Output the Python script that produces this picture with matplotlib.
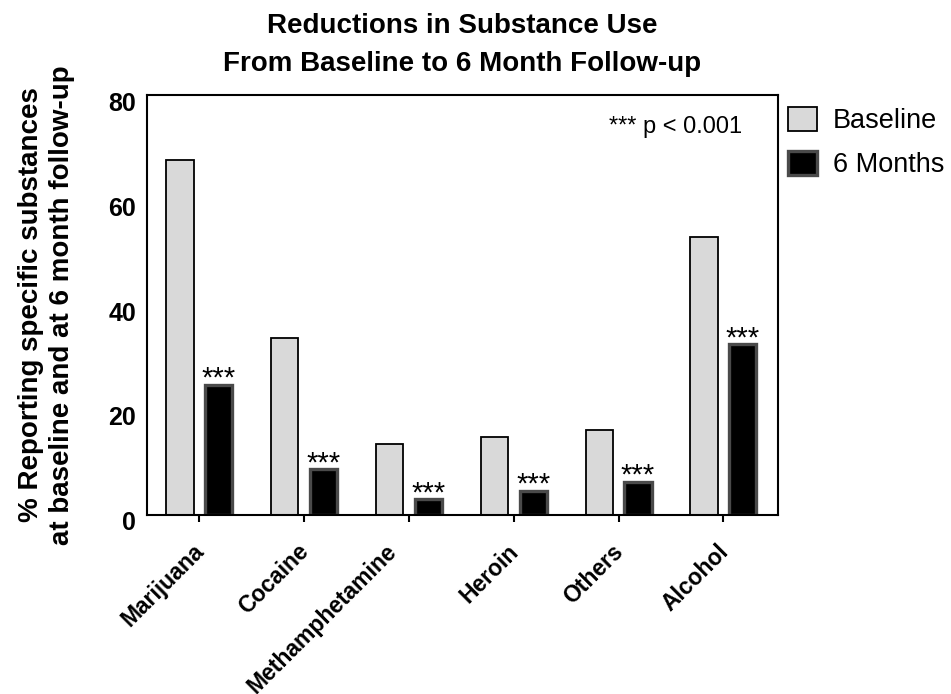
import numpy as np
import matplotlib.pyplot as plt
import matplotlib.transforms as mtrans

# data
substances = ["Marijuana", "Cocaine", "Methamphetamine", "Heroin", "Others", "Alcohol"]
baseline = [67.7, 33.7, 13.6, 14.9, 16.2, 53.0]
month6 = [24.8, 8.7, 3.0, 4.6, 6.3, 32.5]
stars = ["***", "***", "***", "***", "***", "***"]

plt.rcParams['font.family'] = ['Liberation Sans', 'DejaVu Sans']

fig = plt.figure(figsize=(9.51, 6.94), dpi=100)
ax = fig.add_axes([0.1546, 0.258, 0.6634, 0.605])

x = np.arange(len(substances))
w = 0.26
off = 0.185

ax.bar(x - off, baseline, w, color="#d9d9d9", edgecolor="black", linewidth=1.3, label="Baseline")
ax.bar(x + off, month6, w, color="black", edgecolor="#4a4a4a", linewidth=2.4, label="6 Months")

# significance stars over the 6 month bars
for xi, v, s in zip(x, month6, stars):
    ax.annotate(s, (xi + off, v), xytext=(0, -1.5), textcoords="offset points",
                ha="center", va="baseline", fontsize=21)

ax.text(0.944, 0.925, "*** p < 0.001", transform=ax.transAxes,
        ha="right", va="center", fontsize=17)

ax.set_xlim(-0.5, 5.52)
ax.set_ylim(0, 80)
ax.set_yticks([0, 20, 40, 60, 80])
ax.set_xticks(x)
# tick_params first, it resets the label transforms
ax.tick_params(axis="x", direction="out", length=5, width=1.5, pad=13)
ax.tick_params(axis="y", length=0, pad=8)
ax.set_xticklabels(substances, rotation=45, ha="right", rotation_mode="anchor",
                   fontsize=16.5, fontweight="bold")
# the long label sits further left in the original
for lab in ax.get_xticklabels():
    dx = -0.24 if lab.get_text() == "Methamphetamine" else -0.07
    lab.set_transform(lab.get_transform() + mtrans.ScaledTranslation(dx, 0, fig.dpi_scale_trans))
# y labels sit a little below their ticks in the original
for lab in ax.get_yticklabels():
    lab.set_fontweight("bold")
    lab.set_fontsize(18)
    lab.set_transform(lab.get_transform() + mtrans.ScaledTranslation(0, -0.06, fig.dpi_scale_trans))
for sp in ax.spines.values():
    sp.set_linewidth(1.5)

ax.set_ylabel("% Reporting specific substances\nat baseline and at 6 month follow-up",
              fontsize=20, fontweight="bold", labelpad=24, linespacing=1.25)
ax.set_title("Reductions in Substance Use\nFrom Baseline to 6 Month Follow-up",
             fontsize=20, fontweight="bold", pad=17, linespacing=1.6)

ax.legend(loc="upper left", bbox_to_anchor=(788 / 951, 1 - 107 / 694),
          bbox_transform=fig.transFigure, frameon=False, fontsize=19.5,
          handlelength=1.07, handleheight=1.0, borderaxespad=0, borderpad=0,
          labelspacing=0.6, handletextpad=0.6)

plt.savefig("out.png", dpi=100)
